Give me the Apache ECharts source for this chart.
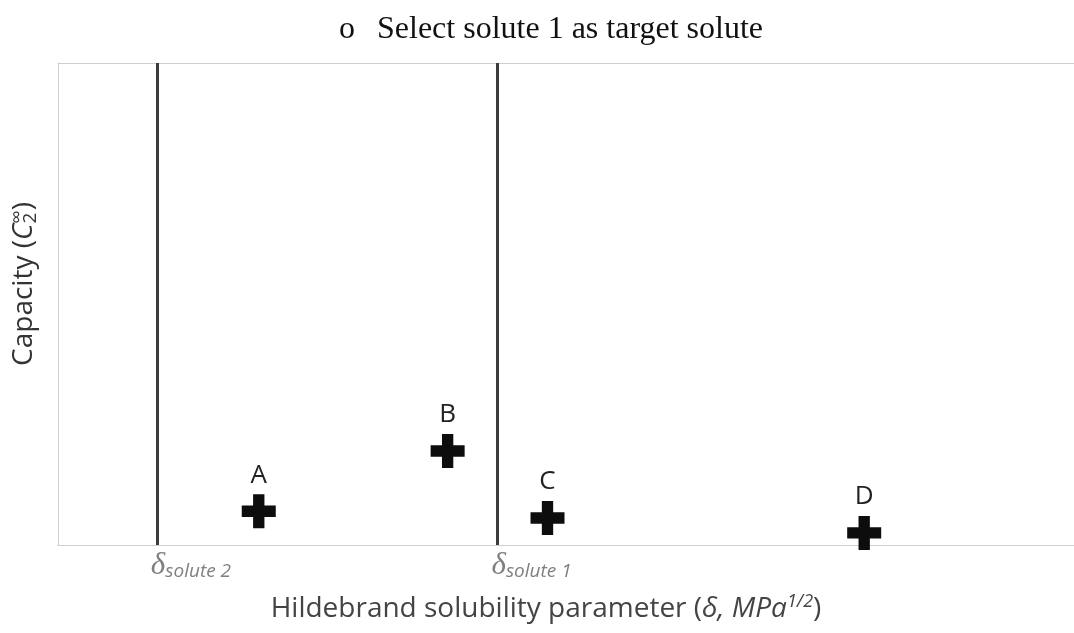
<!DOCTYPE html>
<html>
<head>
<meta charset="utf-8">
<script src="https://cdn.jsdelivr.net/npm/echarts@6/dist/echarts.min.js"></script>
<style>
  html, body { margin: 0; padding: 0; background: #fff; }
  #main { width: 1074px; height: 633px; }
</style>
</head>
<body>
<div id="main"></div>
<script>
// solvents (x = solubility parameter, y = capacity), arbitrary units
const solventNames = ['A', 'B', 'C', 'D'];
const solventDelta = [19.76, 38.35, 48.18, 79.35];
const solventCapacity = [7.0, 19.5, 5.6, 2.5];

// solute solubility parameters (vertical lines)
const soluteNames = ['solute 2', 'solute 1'];
const soluteDelta = [9.73, 43.26];

const plus = 'path://M4,0 H8 V4 H12 V8 H8 V12 H4 V8 H0 V4 H4 Z';

let myChart = echarts.init(document.getElementById('main'));

let points = solventNames.map((n, i) => ({ name: n, value: [solventDelta[i], solventCapacity[i]] }));
let lines = soluteNames.map((n, i) => ({ name: n, xAxis: soluteDelta[i] }));

let plainAxis = {
  axisLine: { show: true, lineStyle: { color: '#cfcfcf', width: 1 } },
  axisTick: { show: false },
  axisLabel: { show: false },
  splitLine: { show: false }
};

let option = {
  animation: false,
  title: {
    text: '{b|o}{t|Select solute 1 as target solute}',
    left: 339,
    top: 14,
    padding: 0,
    textStyle: {
      fontWeight: 'normal',
      rich: {
        b: { fontFamily: 'Liberation Serif', fontWeight: 'normal', fontSize: 32, color: '#111', padding: [0, 22, 0, 0] },
        t: { fontFamily: 'Liberation Serif', fontWeight: 'normal', fontSize: 32, color: '#111' }
      }
    }
  },
  grid: {
    left: 57,
    right: 0,
    top: 63,
    bottom: 88
  },
  xAxis: [
    Object.assign({
      type: 'value',
      min: 0,
      max: 100,
      name: 'Hildebrand solubility parameter ({i|δ, MPa}{sup|1/2}{n|)}',
      nameLocation: 'middle',
      nameGap: 48,
      nameTextStyle: {
        fontFamily: 'Open Sans',
        fontSize: 28,
        color: '#444',
        padding: [0, 40, 0, 0],
        rich: {
          i: { fontFamily: 'Open Sans', fontStyle: 'italic', fontSize: 28, color: '#444' },
          sup: { fontFamily: 'Open Sans', fontStyle: 'italic', fontSize: 18, color: '#444', padding: [0, 0, 14, 0] },
          n: { fontFamily: 'Open Sans', fontSize: 28, color: '#444' }
        }
      }
    }, plainAxis),
    Object.assign({ type: 'value', min: 0, max: 100, position: 'top' }, plainAxis)
  ],
  yAxis: Object.assign({
    type: 'value',
    min: 0,
    max: 100,
    name: 'Capacity ({i|C}{sub|2}{sup|∞}{n|)}',
    nameLocation: 'middle',
    nameGap: 17,
    nameTextStyle: {
      fontFamily: 'Open Sans',
      fontSize: 28,
      color: '#333',
      padding: [0, 0, 0, 40],
      rich: {
        i: { fontFamily: 'Open Sans', fontStyle: 'italic', fontSize: 28, color: '#333' },
        sub: { fontFamily: 'Open Sans', fontSize: 19, color: '#333', padding: [12, 0, 0, 0] },
        sup: { fontFamily: 'Open Sans', fontSize: 19, color: '#333', padding: [0, 0, 14, -11] },
        n: { fontFamily: 'Open Sans', fontSize: 28, color: '#333' }
      }
    }
  }, plainAxis),
  series: [
    {
      type: 'scatter',
      symbol: plus,
      symbolSize: 34,
      itemStyle: { color: '#0d0d0d', opacity: 1 },
      label: {
        show: true,
        position: 'top',
        distance: 6,
        formatter: '{b}',
        fontFamily: 'Open Sans',
        fontSize: 26,
        color: '#222'
      },
      data: points,
      markLine: {
        silent: true,
        symbol: ['none', 'none'],
        lineStyle: { color: '#3c3c3c', width: 3, type: 'solid' },
        label: {
          show: true,
          position: 'start',
          distance: 5,
          align: 'left',
          offset: [-6, 0],
          formatter: p => '{d|δ}{s|' + p.name + '}',
          rich: {
            d: { fontFamily: 'Liberation Serif', fontStyle: 'italic', fontSize: 31, color: '#808080' },
            s: { fontFamily: 'Open Sans', fontStyle: 'italic', fontSize: 19, color: '#808080', padding: [12, 0, 0, 0] }
          }
        },
        data: lines
      }
    }
  ]
};

myChart.setOption(option);
</script>
</body>
</html>
